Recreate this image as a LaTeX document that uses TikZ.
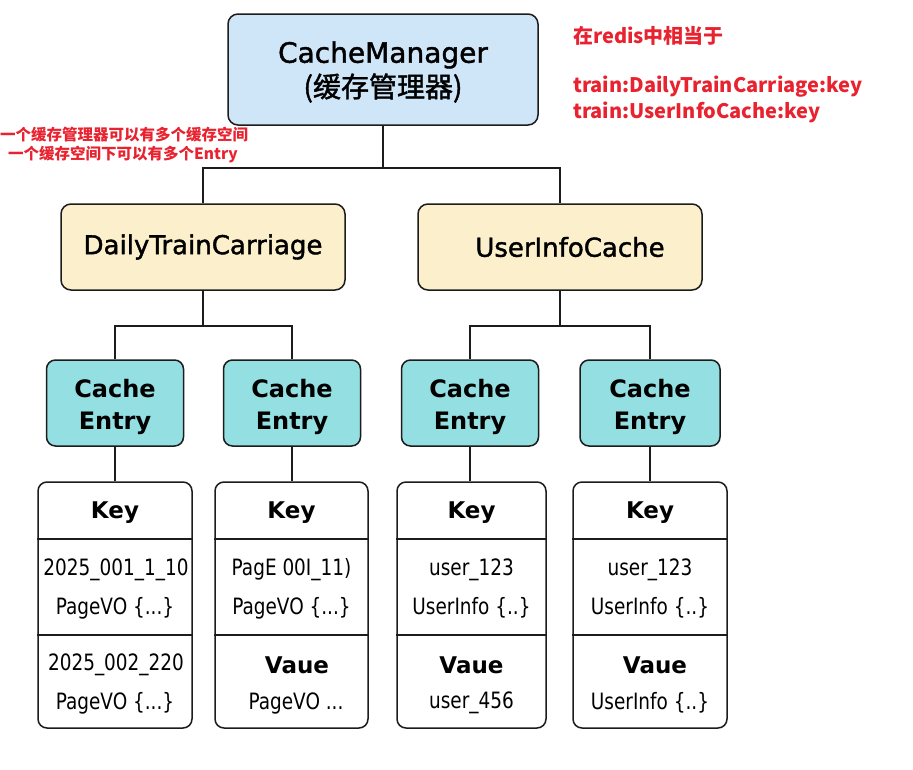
\documentclass[tikz,border=0pt]{standalone}
\usepackage{fontspec}
\setmainfont{DejaVu Sans}
\newfontfamily\cjk{Noto Sans CJK SC}
\newfontfamily\cjkmed[FakeBold=1.5]{Noto Sans CJK SC}
\newfontfamily\medfont[FakeBold=1.5]{DejaVu Sans}
\newfontfamily\condfont[FakeStretch=0.82]{DejaVu Sans}
\definecolor{cmblue}{HTML}{CFE5F8}
\definecolor{dtyellow}{HTML}{FCF0CC}
\definecolor{entryteal}{HTML}{93DFE2}
\definecolor{annred}{HTML}{E8222E}
\definecolor{linegray}{HTML}{1C1C1C}
\tikzset{
 box/.style={draw=linegray, line width=1.5pt, rounded corners=10pt, inner sep=0pt},
 mgr/.style={box, fill=cmblue, minimum width=310pt, minimum height=111pt},
 spacebox/.style={box, fill=dtyellow, minimum width=284pt, minimum height=86pt, font=\medfont\fontsize{26}{30}\selectfont},
 entry/.style={box, fill=entryteal, minimum width=137pt, minimum height=86pt, rounded corners=9pt},
 entrytext/.style={font=\fontsize{24}{32}\selectfont\bfseries, align=center, inner sep=0pt},
 kv/.style={box, fill=white, minimum height=246pt, rounded corners=9pt},
 conn/.style={draw=linegray, line width=1.5pt},
 divider/.style={draw=linegray, line width=1.3pt},
 hdr/.style={font=\fontsize{23}{28}\selectfont\bfseries, inner sep=0pt},
 rowtext/.style={font=\condfont\fontsize{22.5}{26}\selectfont, inner sep=0pt},
 note/.style={text=annred, font=\cjk\bfseries\fontsize{20}{25}\selectfont, anchor=west, inner sep=0pt},
 smallnote/.style={text=annred, font=\cjk\bfseries\fontsize{15.5}{18}\selectfont, anchor=west, inner sep=0pt},
}
\begin{document}
\begin{tikzpicture}[x=1pt,y=-1pt]
\useasboundingbox[fill=white] (0,0) rectangle (913,769);
% manager
\node[mgr] (cm) at (383,69.5) {};
\node[inner sep=0pt] (cmt1) at (383,55) {\medfont\fontsize{28}{30}\selectfont CacheManager};
\node[inner sep=0pt] (cmt2) at (383,88) {\cjkmed\fontsize{28}{30}\selectfont (缓存管理器)};
% spaces
\node[spacebox] (dtc) at (203,247) {DailyTrainCarriage};
\node[spacebox] (uic) at (560,247) {\hspace*{20pt}UserInfoCache};
% entries
\node[entry] (e1) at (115,403) {};
\node[entry] (e2) at (292,403) {};
\node[entry] (e3) at (470,403) {};
\node[entry, minimum width=140pt] (e4) at (650,403) {};
\foreach \e in {e1,e2,e3,e4}{
  \node[entrytext] (\e t) at ([yshift=-4pt]\e.center) {Cache\\Entry};
}
% key/value boxes
\node[kv, minimum width=154pt] (k1) at (115,605) {};
\node[kv, minimum width=153pt] (k2) at (291.5,605) {};
\node[kv, minimum width=149pt] (k3) at (471.5,605) {};
\node[kv, minimum width=154pt] (k4) at (650,605) {};
\foreach \k in {k1,k2,k3,k4}{
  \draw[divider] (\k.west |- 0,539) -- (\k.east |- 0,539);
  \draw[divider] (\k.west |- 0,635) -- (\k.east |- 0,635);
}
% box 1
\node[hdr] (k1h) at (115,513) {Key};
\node[rowtext] (k1a) at (116,570) {2025\_001\_1\_10};
\node[rowtext] (k1b) at (115,608) {PageVO \{...\}};
\node[rowtext] (k1c) at (116,665) {2025\_002\_220};
\node[rowtext] (k1d) at (115,703) {PageVO \{...\}};
% box 2
\node[hdr] (k2h) at (291.5,513) {Key};
\node[rowtext] (k2a) at (291.5,570) {PagE 00I\_11)};
\node[rowtext] (k2b) at (291.5,608) {PageVO \{...\}};
\node[hdr] (k2c) at (297,665) {Vaue};
\node[rowtext] (k2d) at (296,703) {PageVO ...};
% box 3
\node[hdr] (k3h) at (471.5,513) {Key};
\node[rowtext] (k3a) at (471.5,570) {user\_123};
\node[rowtext] (k3b) at (471.5,608) {UserInfo \{..\}};
\node[hdr] (k3c) at (471.5,665) {Vaue};
\node[rowtext] (k3d) at (471.5,703) {user\_456};
% box 4
\node[hdr] (k4h) at (650,513) {Key};
\node[rowtext] (k4a) at (650,570) {user\_123};
\node[rowtext] (k4b) at (650,608) {UserInfo \{..\}};
\node[hdr] (k4c) at (655,665) {Vaue};
\node[rowtext] (k4d) at (650,703) {UserInfo \{..\}};
% connectors
\coordinate (j0) at (383,168);
\coordinate (j1) at (203,326);
\coordinate (j2) at (560,326);
\draw[conn] (cm.south) -- (j0);
\draw[conn] (dtc.north) |- (j0) -| (uic.north);
\draw[conn] (dtc.south) -- (j1);
\draw[conn] (e1.north) |- (j1) -| (e2.north);
\draw[conn] (uic.south) -- (j2);
\draw[conn] (e3.north) |- (j2) -| (e4.north);
\foreach \e/\k in {e1/k1,e2/k2,e3/k3,e4/k4}{
  \draw[conn] (\e.south) -- (\e.south |- \k.north);
}
% notes
\node[note] (n1) at (573,36) {在redis中相当于};
\node[note] (n2) at (573,87) {train:DailyTrainCarriage:key};
\node[note] (n3) at (573,112) {train:UserInfoCache:key};
\node[smallnote] (n4) at (0,135) {一个缓存管理器可以有多个缓存空间};
\node[smallnote] (n5) at (8,154) {一个缓存空间下可以有多个Entry};
\end{tikzpicture}
\end{document}
